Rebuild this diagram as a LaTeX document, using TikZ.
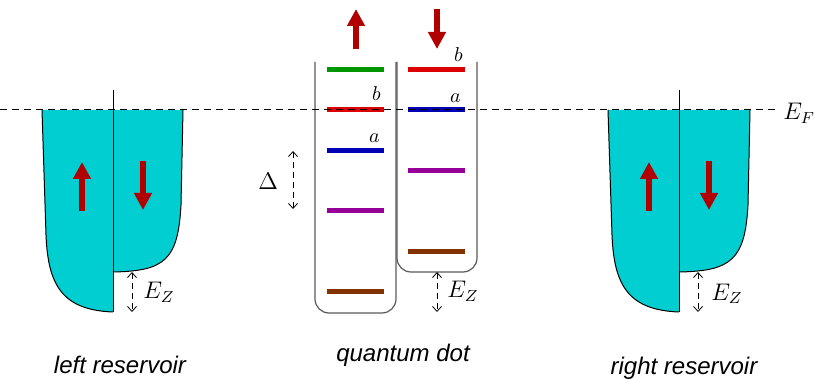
\documentclass[tikz,border=0pt]{standalone}
\usepackage{amsmath}
\usepackage{fontspec}
\usepackage{tikz}
\usetikzlibrary{arrows, arrows.meta, positioning}
\newfontfamily\capfont{Liberation Sans}
\definecolor{resfill}{RGB}{0,206,209}
\definecolor{spinred}{RGB}{176,0,0}
\definecolor{lvgreen}{RGB}{0,150,0}
\definecolor{lvred}{RGB}{220,0,0}
\definecolor{lvblue}{RGB}{0,0,180}
\definecolor{lvpurple}{RGB}{150,0,150}
\definecolor{lvbrown}{RGB}{130,50,0}
\tikzstyle{reservoir} = [fill=resfill]
\tikzstyle{edge} = [draw=black, line width=0.5pt]
\tikzstyle{spin} = [draw=spinred, line width=3pt, -{Triangle[width=8.5pt,length=8.5pt]}]
\tikzstyle{level} = [line width=2.5pt]
\tikzstyle{gap} = [densely dashed, line width=0.4pt, {Straight Barb[length=2.5pt,width=4.5pt]}-{Straight Barb[length=2.5pt,width=4.5pt]}]
\tikzstyle{dotbox} = [draw=black!65, line width=0.6pt, rounded corners=7pt]
\tikzstyle{fermi} = [dash pattern=on 3.5pt off 2.5pt, line width=0.5pt]
\tikzstyle{caption} = [font=\capfont\itshape\large, anchor=base]
\tikzstyle{lbl} = [inner sep=0pt, anchor=base west, font=\large]
\tikzstyle{lvlbl} = [inner sep=0pt, anchor=base east]

\begin{document}
\begin{tikzpicture}[x=0.5pt, y=-0.5pt]
\useasboundingbox (0,0) rectangle (814,379);

% Left reservoir
\fill[reservoir] (42,110) -- (46,235) .. controls (48,285) and (62,310) .. (113,312) -- (113,110) -- cycle;
\fill[reservoir] (183,110) -- (181,205) .. controls (178,260) and (165,271) .. (113,272) -- (113,110) -- cycle;
\draw[edge] (42,110) -- (46,235) .. controls (48,285) and (62,310) .. (113,312);
\draw[edge] (183,110) -- (181,205) .. controls (178,260) and (165,271) .. (113,272);
\draw[edge] (113,90) -- (113,312);
\coordinate (lzt) at (132,272);
\coordinate (lzb) at (132,312);
\draw[spin] (82,211) -- (82,162);
\draw[spin] (143,161) -- (143,210);

% Right reservoir
\begin{scope}[shift={(566,0)}]
\fill[reservoir] (42,110) -- (46,235) .. controls (48,285) and (62,310) .. (113,312) -- (113,110) -- cycle;
\fill[reservoir] (184,110) -- (182,205) .. controls (179,260) and (165,271) .. (113,272) -- (113,110) -- cycle;
\draw[edge] (42,110) -- (46,235) .. controls (48,285) and (62,310) .. (113,312);
\draw[edge] (184,110) -- (182,205) .. controls (179,260) and (165,271) .. (113,272);
\draw[edge] (113,90) -- (113,312);
\coordinate (rzt) at (132,272);
\coordinate (rzb) at (132,312);
\draw[spin] (83,211) -- (83,162);
\draw[spin] (143,161) -- (143,210);
\end{scope}

% Quantum dot
\draw[dotbox] (315,62) -- (315,313) -- (396,313) -- (396,62);
\draw[dotbox] (397,62) -- (397,272) -- (477,272) -- (477,62);
\coordinate (dzt) at (437,272);
\coordinate (dzb) at (437,312);
\draw[spin] (356,49) -- (356,9);
\draw[spin] (437,9) -- (437,49);

% Levels, spin up
\draw[level, lvgreen] (327,70) -- (384,70);
\draw[level, lvred] (327,110) -- (384,110);
\draw[level, lvblue] (327,151) -- (384,151);
\draw[level, lvpurple] (327,211) -- (384,211);
\draw[level, lvbrown] (327,292) -- (384,292);

% Levels, spin down
\draw[level, lvred] (408,70) -- (465,70);
\draw[level, lvblue] (408,110) -- (465,110);
\draw[level, lvpurple] (408,171) -- (465,171);
\draw[level, lvbrown] (408,252) -- (465,252);

% Fermi level
\draw[fermi] (0,110) -- (778,110);
\node (ef) [lbl] at (783,120) {$E_F$};

% Labels
\node (bup) [lvlbl] at (381,101) {$b$};
\node (aup) [lvlbl] at (380,143) {$a$};
\node (bdown) [lvlbl] at (463,62) {$b$};
\node (adown) [lvlbl] at (461,103) {$a$};

% Spacing
\coordinate (dt) at (293,151);
\coordinate (db) at (293,209);
\draw[gap] (dt) -- (db);
\node (delta) [lbl] at (258,190) {$\Delta$};

% Zeeman splittings
\draw[gap] (lzt) -- (lzb);
\node (ezl) [lbl] at (143,299) {$E_Z$};
\draw[gap] (dzt) -- (dzb);
\node (ezd) [lbl] at (447,298) {$E_Z$};
\draw[gap] (rzt) -- (rzb);
\node (ezr) [lbl] at (711,300) {$E_Z$};

% Captions
\node (leftcap) [caption] at (120,373) {left reservoir};
\node (dotcap) [caption] at (403,361) {quantum dot};
\node (rightcap) [caption] at (684,374) {right reservoir};

\end{tikzpicture}
\end{document}
